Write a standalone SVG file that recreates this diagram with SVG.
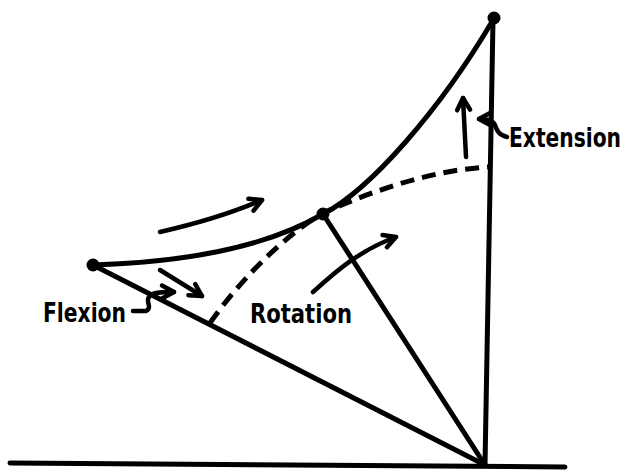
<svg xmlns="http://www.w3.org/2000/svg" width="630" height="472" viewBox="0 0 630 472">
<style>
.ln{fill:none;stroke:#000;stroke-width:5;stroke-linecap:round;stroke-linejoin:round}
.th{fill:none;stroke:#000;stroke-width:4.5;stroke-linecap:round;stroke-linejoin:round}
.ds{fill:none;stroke:#000;stroke-width:5;stroke-dasharray:14 8;stroke-linecap:butt}
.t{font-family:"DejaVu Sans",sans-serif;font-weight:bold;font-size:26px;fill:#000}
.te{font-family:"DejaVu Sans",sans-serif;font-weight:bold;font-size:21px;fill:#000}
</style>
<defs>
<marker id="ah" viewBox="0 0 16 16" refX="13" refY="8" markerWidth="16" markerHeight="16" orient="auto" markerUnits="userSpaceOnUse" overflow="visible">
<path d="M1,1.5 L13,8 L1,14.5" fill="none" stroke="#000" stroke-width="4.5" stroke-linecap="round" stroke-linejoin="round"/>
</marker>
</defs>
<rect width="630" height="472" fill="#fff"/>
<g id="connectors">
<path class="ln" d="M10,463 L565,467"/>
<path class="ln" d="M493,20 L485,465"/>
<path class="ln" d="M93,265 L485,465"/>
<path class="ln" d="M323,214 L485,465"/>
<path class="ln" d="M93,265 C190,262 270,245 323,214 C370,190 440,110 493,20"/>
<path class="ds" d="M210,323 C240,280 285,235 323,213 C370,192 430,170 489,167"/>
<path class="th" d="M160,232 C195,224 232,213 262,200" marker-end="url(#ah)"/>
<path class="th" d="M160,270 L202,296" marker-end="url(#ah)"/>
<path class="th" d="M313,292 C335,272 360,250 396,237" marker-end="url(#ah)"/>
<path class="th" d="M466,157 L463,98" marker-end="url(#ah)"/>
<path class="th" d="M133,311 L146,311 C153,308 145,301 149,297 C151,293 158,292 174,292" marker-end="url(#ah)"/>
<path class="th" d="M507,137 C499,135 497,131 495,125 C493,120 486,119 479,119" marker-end="url(#ah)"/>
</g>
<g id="node-top"><circle cx="494" cy="18" r="6.5"/></g>
<g id="node-left"><circle cx="93" cy="265" r="6.5"/></g>
<g id="node-mid"><circle cx="323" cy="214" r="6.5"/></g>
<g id="label-flexion"><text class="t" x="43" y="322" textLength="83" lengthAdjust="spacingAndGlyphs">Flexion</text></g>
<g id="label-rotation"><text class="t" x="250" y="323" textLength="102" lengthAdjust="spacingAndGlyphs">Rotation</text></g>
<g id="label-extension" transform="translate(509,147) scale(1,1.25)"><text class="te" x="0" y="0" textLength="112" lengthAdjust="spacingAndGlyphs">Extension</text></g>
</svg>
